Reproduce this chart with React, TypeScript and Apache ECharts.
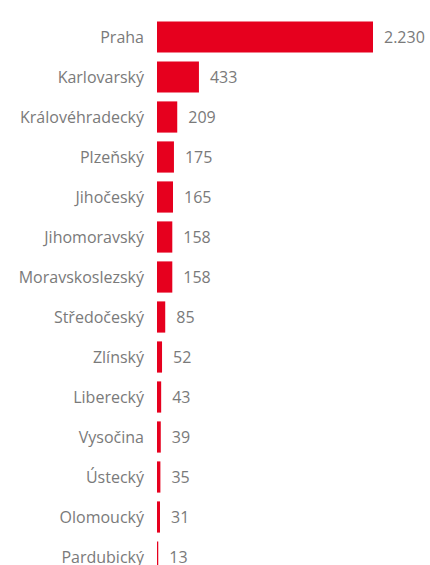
import React, { useEffect, useRef } from "react";
import * as echarts from "echarts";

const categories = [
  "Praha",
  "Karlovarský",
  "Královéhradecký",
  "Plzeňský",
  "Jihočeský",
  "Jihomoravský",
  "Moravskoslezský",
  "Středočeský",
  "Zlínský",
  "Liberecký",
  "Vysočina",
  "Ústecký",
  "Olomoucký",
  "Pardubický",
];
const values = [2230, 433, 209, 175, 165, 158, 158, 85, 52, 43, 39, 35, 31, 13];

const fmt = (v: number) => String(v).replace(/\B(?=(\d{3})+(?!\d))/g, ".");

export default function App() {
  const ref = useRef<HTMLDivElement>(null);
  useEffect(() => {
    document.body.style.margin = "0";
    const chart = echarts.init(ref.current!, null, { renderer: "svg" });
    chart.setOption({
      animation: false,
      textStyle: { fontFamily: "Open Sans" },
      grid: {
        left: 157,
        width: 216,
        top: 17,
        height: 560,
        containLabel: false,
        outerBoundsMode: "none",
      },
      xAxis: {
        type: "value",
        min: 0,
        max: 2230,
        show: false,
      },
      yAxis: {
        type: "category",
        data: categories,
        inverse: true,
        axisLine: { show: false },
        axisTick: { show: false },
        axisLabel: { color: "#7a7a7a", fontSize: 16, margin: 13, fontFamily: "Open Sans" },
      },
      series: [
        {
          type: "bar",
          data: values,
          barCategoryGap: "22%",
          itemStyle: { color: "#E6001E" },
          label: {
            show: true,
            position: "right",
            distance: 11,
            color: "#7a7a7a",
            fontSize: 16,
            fontFamily: "Open Sans",
            formatter: (p: any) => fmt(p.value),
          },
        },
      ],
    });
    return () => chart.dispose();
  }, []);
  return <div ref={ref} style={{ width: 430, height: 565 }} />;
}
